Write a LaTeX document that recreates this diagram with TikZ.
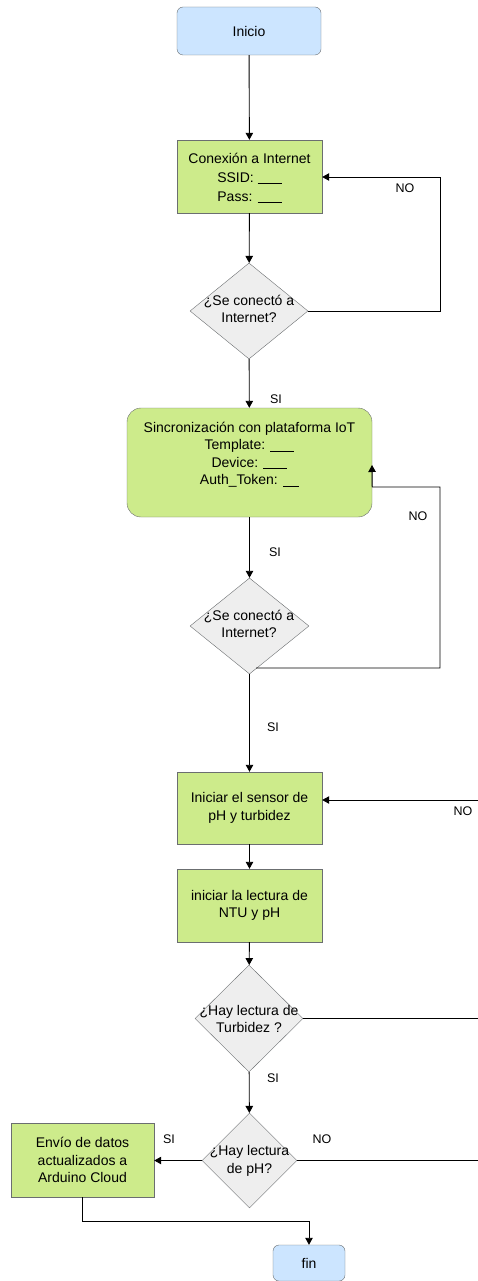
\documentclass[tikz,border=0pt]{standalone}
\usepackage{fontspec}
\setmainfont{Liberation Sans}
\usetikzlibrary{shapes.geometric,arrows.meta}
\definecolor{bluefill}{HTML}{CCE5FF}
\definecolor{greenfill}{HTML}{CDEB8B}
\definecolor{grayfill}{HTML}{EEEEEE}
\definecolor{edge}{HTML}{6B6E70}
\newcommand{\blank}[1]{\underline{\hspace{#1}}}
\begin{document}
\begin{tikzpicture}[x=1pt,y=-1pt,
  every node/.style={font=\fontsize{14}{17.5}\selectfont},
  term/.style={draw=edge,fill=bluefill,rounded corners=6pt,inner sep=0pt},
  proc/.style={draw=edge,fill=greenfill,inner sep=0pt,align=center},
  rproc/.style={draw=edge,fill=greenfill,inner sep=0pt,rounded corners=14pt},
  dec/.style={draw=edge,fill=grayfill,diamond,inner sep=0pt},
  dtext/.style={align=center},
  lbl/.style={font=\fontsize{12.5}{14}\selectfont},
  conn/.style={draw=black,line width=0.9pt},
  arr/.style={conn,-{Triangle[length=7pt,width=7.5pt]}}]
\useasboundingbox (0,0) rectangle (478,1281);
% nodes
\node[term,minimum width=144,minimum height=48] (ini) at (249,31) {Inicio};
\node[proc,minimum width=145,minimum height=73] (con) at (249.5,176.5) {};
\node[align=center] (cont) at (249.5,178) {Conexión a Internet\\[1.5pt]SSID: \blank{24pt}\\[1.5pt]Pass: \blank{24pt}};
\node[dec,minimum width=118,minimum height=96] (d1) at (249,311) {};
\node[dtext] at (249,309) {¿Se conectó a\\Internet?};
\node[rproc,minimum width=245,minimum height=109] (sin) at (249.5,462.5) {};
\node[align=center] (sint) at (249.5,454.5) {Sincronización con plataforma IoT\\Template: \blank{24pt}\\Device: \blank{24pt}\\Auth\_Token: \blank{16pt}};
\node[dec,minimum width=119,minimum height=96] (d2) at (249.5,626) {};
\node[dtext] at (249,624) {¿Se conectó a\\Internet?};
\node[proc,minimum width=145,minimum height=72] (sen) at (249.5,808) {Iniciar el sensor de\\pH y turbidez};
\node[proc,minimum width=145,minimum height=73] (lec) at (249.5,905.5) {iniciar la lectura de\\NTU y pH};
\node[dec,minimum width=108,minimum height=107] (d3) at (249,1018.5) {};
\node[dtext] at (249,1019) {¿Hay lectura de\\Turbidez ?};
\node[dec,minimum width=95,minimum height=95] (d4) at (249.5,1160.5) {};
\node[dtext] at (249.5,1161) {¿Hay lectura\\de pH?};
\node[proc,minimum width=143,minimum height=74] (env) at (82.5,1160) {Envío de datos\\actualizados a\\Arduino Cloud};
\node[term,minimum width=72,minimum height=36] (fin) at (309,1263) {fin};
% coordinates
\coordinate (r1) at (440,311);
\coordinate (r1t) at (440,177);
\coordinate (d2s) at (256,668);
\coordinate (r2) at (440,668);
\coordinate (r2t) at (440,487);
\coordinate (sinr) at (sin.east |- r2t);
\coordinate (sinu) at (372,465);
\coordinate (senin) at (478,800);
\coordinate (d3out) at (478,1018.5);
\coordinate (d4out) at (478,1160.5);
\coordinate (envb) at (82.5,1221);
% connectors
\draw[arr] (ini) -- (con);
\draw[arr] (con) -- (d1);
\draw[arr] (d1.east) -- (r1) -- (r1t) -- (con.east |- r1t);
\draw[arr] (d1) -- (sin);
\draw[arr] (sin) -- (d2);
\draw[arr] (d2s) -- (r2) -- (r2t) -- (sinr) -- (sinu);
\draw[arr] (d2) -- (sen);
\draw[arr] (senin) -- (sen.east |- senin);
\draw[arr] (sen) -- (lec);
\draw[arr] (lec) -- (d3);
\draw[conn] (d3.east) -- (d3out);
\draw[arr] (d3) -- (d4);
\draw[conn] (d4.east) -- (d4out);
\draw[arr] (d4.west) -- (env.east |- d4.west);
\draw[arr] (env.south) -- (envb) -| (fin.north);
% labels
\node[lbl] at (405,188) {NO};
\node[lbl] at (276,399) {SI};
\node[lbl] at (418,516) {NO};
\node[lbl] at (275,552) {SI};
\node[lbl] at (273,727) {SI};
\node[lbl] at (463,811) {NO};
\node[lbl] at (273,1078) {SI};
\node[lbl] at (322,1139) {NO};
\node[lbl] at (169,1139) {SI};
\end{tikzpicture}
\end{document}
